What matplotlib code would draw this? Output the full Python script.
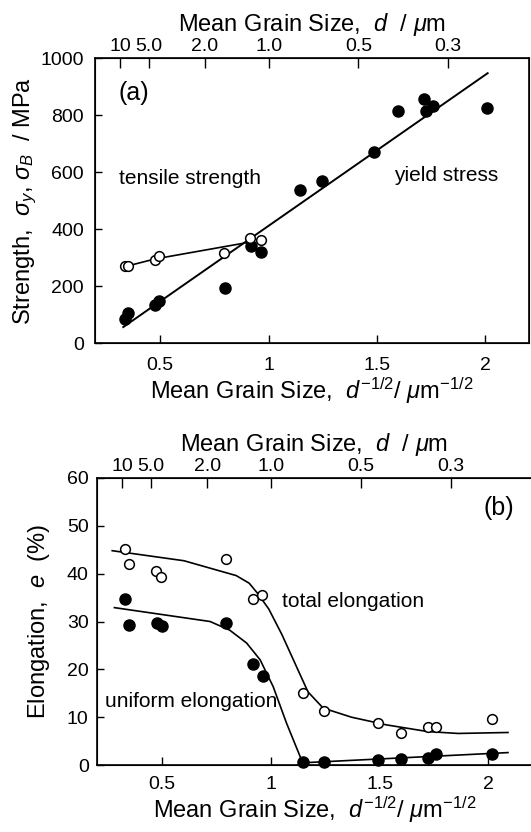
import numpy as np
import matplotlib
matplotlib.use('Agg')
import matplotlib.pyplot as plt

plt.rcParams['font.family'] = ['Liberation Sans', 'DejaVu Sans']
plt.rcParams['mathtext.fontset'] = 'custom'
plt.rcParams['mathtext.rm'] = 'Liberation Sans'
plt.rcParams['mathtext.it'] = 'Liberation Sans:italic'
plt.rcParams['mathtext.bf'] = 'Liberation Sans:bold'

# top axis: mean grain size d (um)
d_ticks = [10, 5.0, 2.0, 1.0, 0.5, 0.3]
d_labels = ['10', '5.0', '2.0', '1.0', '0.5', '0.3']

# (a) strength vs d^-1/2
ts_x = [0.337, 0.352, 0.477, 0.495, 0.795, 0.915, 0.963]
ts_y = [269, 269, 292, 306, 316, 368, 360]
ys_x = [0.337, 0.350, 0.478, 0.496, 0.797, 0.917, 0.966, 1.145, 1.246, 1.487,
        1.597, 1.716, 1.727, 1.756, 2.005]
ys_y = [84, 105, 134, 146, 193, 339, 319, 538, 570, 669, 816, 857, 815, 833, 825]
ts_fit_x = [0.337, 0.476, 0.898]
ts_fit_y = [268, 295, 352]
ys_fit_x = [0.33, 2.01]
ys_fit_y = [56, 947]

# (b) elongation vs d^-1/2
te_x = [0.330, 0.346, 0.471, 0.494, 0.791, 0.916, 0.961, 1.148, 1.244, 1.491,
        1.600, 1.720, 1.760, 2.015]
te_y = [45.1, 42.1, 40.5, 39.4, 43.1, 34.8, 35.6, 15.1, 11.2, 8.7, 6.6, 7.9, 7.9, 9.6]
ue_x = [0.330, 0.349, 0.474, 0.497, 0.792, 0.918, 0.963, 1.148, 1.244, 1.491,
        1.600, 1.720, 1.760, 2.015]
ue_y = [34.7, 29.3, 29.7, 29.0, 29.7, 21.1, 18.7, 0.6, 0.7, 1.0, 1.3, 1.5, 2.2, 2.2]
te_fit_x = [0.27, 0.60, 0.84, 0.90, 0.94, 0.99, 1.05, 1.11, 1.17, 1.24, 1.37, 1.53,
            1.72, 1.86, 2.09]
te_fit_y = [44.8, 42.7, 39.6, 38.0, 35.8, 32.6, 27.3, 21.3, 15.3, 11.9, 10.0, 8.4,
            7.0, 6.6, 6.8]
ue_fit_x = [0.28, 0.72, 0.81, 0.888, 0.95, 1.01, 1.072, 1.141, 1.16, 2.09]
ue_fit_y = [32.9, 30.0, 28.2, 25.5, 22.0, 16.4, 8.7, 1.0, 0.5, 2.6]

tick_fs = 14
label_fs = 17
text_fs = 15

fig = plt.figure(figsize=(5.31, 8.32), dpi=100)
ax1 = fig.add_axes([0.179, 0.5877, 0.817, 0.3425])
ax2 = fig.add_axes([0.1827, 0.0805, 0.819, 0.345])

mu = r'$\mathit{\mu}$'


def style(ax, xlabel, ylabel, pad_x, pad_y, ylpad):
    ax.set_xlim(0.2, 2.2)
    ax.set_xticks([0.5, 1, 1.5, 2])
    ax.set_xticklabels(['0.5', '1', '1.5', '2'])
    ax.tick_params(axis='x', direction='in', length=6, width=1, labelsize=tick_fs,
                   pad=pad_x, top=False)
    ax.tick_params(axis='y', direction='in', length=5, width=1, labelsize=tick_fs,
                   pad=pad_y, right=False)
    ax.set_xlabel(xlabel, fontsize=label_fs, labelpad=1)
    ax.set_ylabel(ylabel, fontsize=label_fs, labelpad=ylpad)
    for s in ax.spines.values():
        s.set_linewidth(1.2)
    top = ax.twiny()
    top.set_xlim(ax.get_xlim())
    top.set_xticks([1 / np.sqrt(d) for d in d_ticks])
    top.set_xticklabels(d_labels)
    top.tick_params(axis='x', direction='in', length=7, width=1, labelsize=tick_fs, pad=2)
    top.set_xlabel('Mean Grain Size,  $d$  / ' + mu + 'm', fontsize=label_fs, labelpad=5)
    return top


# panel (a)
ax1.plot(ys_fit_x, ys_fit_y, color='black', lw=1.4)
ax1.plot(ts_fit_x, ts_fit_y, color='black', lw=1.2)
ax1.plot(ys_x, ys_y, 'o', ms=8, color='black')
ax1.plot(ts_x, ts_y, 'o', ms=7, mfc='white', mec='black', mew=1.1)
ax1.set_ylim(0, 1000)
ax1.set_yticks(range(0, 1001, 200))
style(ax1, 'Mean Grain Size,  $d^{-1/2}$/ ' + mu + 'm$^{-1/2}$',
      r'Strength,  $\sigma_y$, $\sigma_B$  / MPa', 10, 8, 1)
ax1.text(0.38, 877, '(a)', fontsize=18, ha='center', va='center')
ax1.text(0.638, 579, 'tensile strength', fontsize=text_fs, ha='center', va='center')
ax1.text(1.82, 589, 'yield stress', fontsize=text_fs, ha='center', va='center')

# panel (b)
ax2.plot(te_fit_x, te_fit_y, color='black', lw=1.2)
ax2.plot(ue_fit_x, ue_fit_y, color='black', lw=1.2)
ax2.plot(ue_x, ue_y, 'o', ms=8, color='black', clip_on=False, zorder=3)
ax2.plot(te_x, te_y, 'o', ms=7, mfc='white', mec='black', mew=1.1)
ax2.set_ylim(0, 60)
ax2.set_yticks(range(0, 61, 10))
style(ax2, 'Mean Grain Size,  $d^{-1/2}$/ ' + mu + 'm$^{-1/2}$',
      r'Elongation,  $e$  (%)', 8, 6, 11)
ax2.text(2.05, 53.8, '(b)', fontsize=18, ha='center', va='center')
ax2.text(1.377, 34.2, 'total elongation', fontsize=text_fs, ha='center', va='center')
ax2.text(0.635, 13.3, 'uniform elongation', fontsize=text_fs, ha='center', va='center')

fig.savefig('out.png', dpi=100)
